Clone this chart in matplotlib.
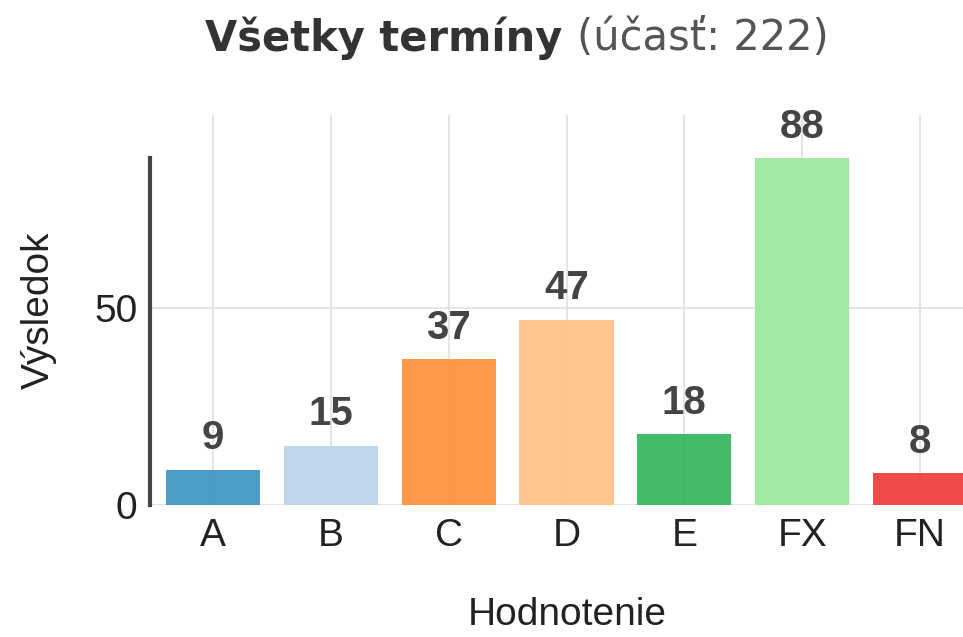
import matplotlib
matplotlib.use("Agg")
import matplotlib.pyplot as plt

# Data
grades = ["A", "B", "C", "D", "E", "FX", "FN"]
counts = [9, 15, 37, 47, 18, 88, 8]
bar_colors = ["#3d95c3", "#bad3ea", "#ff9038", "#ffc386", "#36b65c", "#9ce79c", "#f03c3c"]
title_bold = "Všetky termíny"
title_rest = "(účasť: 222)"

plt.rcParams["font.family"] = ["Liberation Sans", "DejaVu Sans"]

fig = plt.figure(figsize=(9.63, 6.37), dpi=100)
ax = fig.add_axes([0.1558, 0.2072, 0.8442, 0.6123])

x = list(range(len(grades)))
ax.bar(x, counts, width=0.8, color=bar_colors, alpha=0.93, zorder=2)
ax.set_xlim(-0.535, 6.365)
ax.set_ylim(0, 99)

# value labels above bars
for xi, v in zip(x, counts):
    ax.annotate(str(v), (xi, v), xytext=(0, 9), textcoords="offset points",
                ha="center", va="bottom", fontsize=29, fontweight="bold",
                color="#444444", zorder=4)

ax.set_xticks(x)
ax.set_xticklabels(grades)
ax.set_yticks([0, 50])
ax.tick_params(axis="both", length=0, labelsize=28, colors="#222222")
ax.tick_params(axis="x", pad=9)
ax.tick_params(axis="y", pad=9)

ax.grid(True, color="#e0e0e0", linewidth=1.2, zorder=1)
ax.set_axisbelow(True)
for s in ["top", "right", "bottom"]:
    ax.spines[s].set_visible(False)
ax.spines["left"].set_color("#444444")
ax.spines["left"].set_linewidth(3)
ax.spines["left"].set_bounds(0, max(counts))
ax.spines["left"].set_zorder(3)

ax.set_xlabel("Hodnotenie", fontsize=28, color="#222222", va="center")
ax.xaxis.set_label_coords(0.513, -0.282)
ax.set_ylabel("Výsledok", fontsize=28, color="#222222", labelpad=27)

# Title in two styles, centred over the figure
t1 = fig.text(0, 0.94, title_bold + " ", fontsize=30, fontweight="bold",
              color="#333333", family="DejaVu Sans", va="center")
t2 = fig.text(0, 0.94, title_rest, fontsize=30, color="#555555",
              family="DejaVu Sans", va="center")
fig.canvas.draw()
r = fig.canvas.get_renderer()
w1 = t1.get_window_extent(r).width
w2 = t2.get_window_extent(r).width
figw = fig.bbox.width
x0 = (516.5 - (w1 + w2) / 2) / figw
t1.set_x(x0)
t2.set_x(x0 + w1 / figw)

fig.savefig("out.png", dpi=100)
